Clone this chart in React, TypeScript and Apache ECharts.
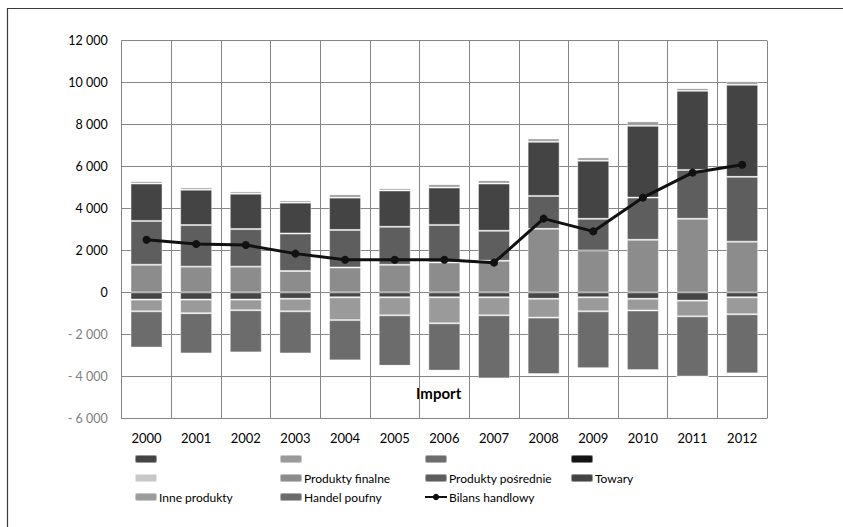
import React, { useEffect, useRef } from "react";
import * as echarts from "echarts";

// Years on the category axis
const years = ["2000", "2001", "2002", "2003", "2004", "2005", "2006", "2007", "2008", "2009", "2010", "2011", "2012"];

// Export side (positive stack), bottom to top
const produktyFinalne = [1320, 1230, 1230, 1020, 1190, 1320, 1430, 1510, 3030, 2000, 2510, 3510, 2420];
const produktyPosrednie = [2090, 1980, 1790, 1790, 1790, 1810, 1790, 1430, 1570, 1510, 2010, 2330, 3090];
const towary = [1780, 1690, 1690, 1470, 1540, 1730, 1780, 2250, 2580, 2770, 3420, 3770, 4390];
const inneProdukty = [120, 110, 110, 110, 160, 110, 160, 160, 160, 160, 220, 130, 170];
const handelPoufny = [0, 0, 0, 0, 0, 0, 0, 0, 0, 0, 0, 0, 0];

// Import side (negative stack), from zero downwards
const importTowary = [-340, -340, -340, -300, -230, -230, -230, -230, -300, -230, -300, -390, -230];
const importInne = [-560, -650, -510, -600, -1090, -860, -1240, -860, -900, -670, -560, -750, -810];
const importPosrednie = [-1730, -1920, -2010, -2010, -1920, -2410, -2260, -3010, -2700, -2720, -2850, -2870, -2820];
const importPoufny = [0, 0, 0, 0, 0, 0, 0, 0, 0, 0, 0, 0, 0];
const importFinalne = [0, 0, 0, 0, 0, 0, 0, 0, 0, 0, 0, 0, 0];

// Trade balance line
const bilansHandlowy = [2510, 2310, 2260, 1850, 1560, 1560, 1560, 1420, 3520, 2910, 4520, 5710, 6090];

// Value axis ticks
const yMin = -6000;
const yMax = 12000;
const yStep = 2000;

const FONT = "Lato, 'Liberation Sans', sans-serif";

const fmt = (v: number) => {
  const abs = Math.abs(v);
  const s = abs >= 1000 ? `${Math.floor(abs / 1000)} ${String(abs % 1000).padStart(3, "0")}` : String(abs);
  return v < 0 ? `- ${s}` : s;
};

export default function App() {
  const ref = useRef<HTMLDivElement>(null);

  useEffect(() => {
    if (!ref.current) return;
    const chart = echarts.init(ref.current, undefined, { renderer: "svg" });

    const border = { borderColor: "rgba(255,255,255,0.45)", borderWidth: 1 };
    const bar = (name: string, data: number[], color: string) => ({
      name,
      type: "bar" as const,
      stack: "bilans",
      data,
      barWidth: 32,
      itemStyle: { color, ...border },
      emphasis: { disabled: true },
    });

    const legendBase = {
      orient: "vertical" as const,
      itemWidth: 22,
      itemHeight: 8,
      itemGap: 4,
      padding: 0,
      selectedMode: false,
      textStyle: { fontFamily: FONT, fontSize: 12, color: "#000", lineHeight: 15, height: 15, padding: [0, 0, 0, -3] },
      formatter: (name: string) => (name.startsWith("Import") ? "\u00a0" : name),
    };

    chart.setOption({
      animation: false,
      backgroundColor: "#fff",
      textStyle: { fontFamily: FONT },
      grid: { left: 121.7, right: 76, top: 40.7, bottom: 108.7, containLabel: false },
      xAxis: [
        {
          type: "category",
          data: years,
          axisLine: { onZero: false, lineStyle: { color: "#868686" } },
          axisTick: { show: false },
          axisLabel: { color: "#000", fontSize: 13, margin: 13, fontFamily: FONT },
          splitLine: { show: true, lineStyle: { color: "#868686", width: 1 } },
        },
        {
          type: "category",
          data: years,
          position: "bottom",
          axisLine: { show: false, onZero: true },
          axisTick: { show: true, inside: true, length: 3, alignWithLabel: true, lineStyle: { color: "#868686" } },
          axisLabel: { show: false },
          splitLine: { show: false },
        },
      ],
      yAxis: {
        type: "value",
        min: yMin,
        max: yMax,
        interval: yStep,
        axisLine: { show: true, lineStyle: { color: "#868686" } },
        axisTick: { show: false },
        axisLabel: {
          fontSize: 12.5,
          margin: 14,
          fontFamily: FONT,
          formatter: (v: number) => (v < 0 ? `{neg|${fmt(v)}}` : `{pos|${fmt(v)}}`),
          rich: {
            pos: { color: "#000", fontSize: 12.5, fontFamily: FONT },
            neg: { color: "#7f7f7f", fontSize: 12.5, fontFamily: FONT },
          },
        },
        splitLine: { show: true, lineStyle: { color: "#868686", width: 1 } },
      },
      legend: [
        { ...legendBase, left: 134, top: 451.5, data: ["Import: towary", "Import: produkty finalne", "Inne produkty"] },
        { ...legendBase, left: 279, top: 451.5, data: ["Import: inne produkty", "Produkty finalne", "Handel poufny"] },
        { ...legendBase, left: 424, top: 451.5, data: ["Import: produkty pośrednie", "Produkty pośrednie", "Bilans handlowy"] },
        { ...legendBase, left: 570, top: 451.5, data: ["Import: handel poufny", "Towary"] },
      ],
      graphic: [
        {
          // outer chart frame (top and left edges)
          type: "polyline",
          silent: true,
          z: 100,
          shape: { points: [[7.5, 527], [7.5, 8.5], [843, 8.5]] },
          style: { stroke: "#3a3a3a", lineWidth: 1.2, fill: null },
        },
        {
          type: "text",
          left: 416,
          top: 385,
          style: { text: "Import", font: `bold 15px ${FONT}`, fill: "#000" },
        },
      ],
      series: [
        bar("Import: towary", importTowary, "#454545"),
        bar("Import: inne produkty", importInne, "#9a9a9a"),
        bar("Import: produkty pośrednie", importPosrednie, "#6c6c6c"),
        bar("Import: handel poufny", importPoufny, "#141414"),
        bar("Import: produkty finalne", importFinalne, "#c8c8c8"),
        bar("Produkty finalne", produktyFinalne, "#8c8c8c"),
        bar("Produkty pośrednie", produktyPosrednie, "#5e5e5e"),
        bar("Towary", towary, "#444444"),
        bar("Inne produkty", inneProdukty, "#9c9c9c"),
        bar("Handel poufny", handelPoufny, "#6b6b6b"),
        {
          name: "Bilans handlowy",
          type: "line",
          data: bilansHandlowy,
          z: 5,
          symbol: "circle",
          symbolSize: 8,
          itemStyle: { color: "#111" },
          lineStyle: { color: "#111", width: 3 },
          emphasis: { disabled: true },
        },
      ],
    });

    return () => chart.dispose();
  }, []);

  return <div ref={ref} style={{ position: "absolute", left: 0, top: 0, width: 843, height: 527 }} />;
}
